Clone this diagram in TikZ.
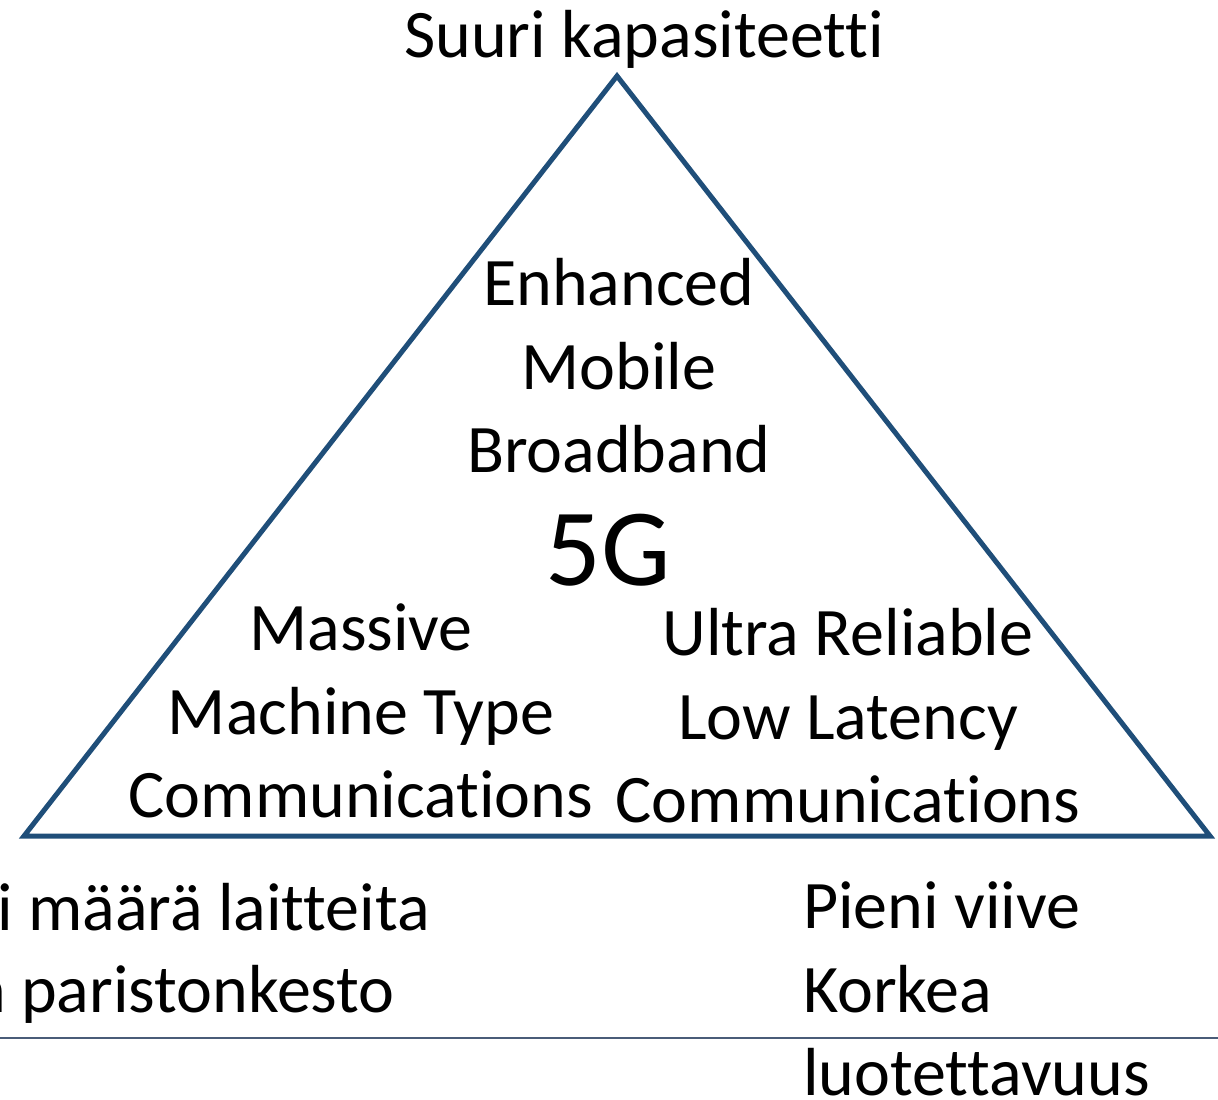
\documentclass[tikz,border=0pt]{standalone}
\usepackage{fontspec}
\setmainfont[Ligatures=NoCommon]{Carlito}
\definecolor{tri}{RGB}{31,78,121}
\definecolor{rule}{RGB}{74,92,120}
\begin{document}
\begin{tikzpicture}[x=1pt,y=-1pt,
  lbl/.style={font=\fontsize{68}{83}\selectfont, inner sep=0pt, align=center},
  big/.style={font=\fontsize{110}{120}\selectfont, inner sep=0pt}]
\useasboundingbox (0,0) rectangle (1218,1100);
\coordinate (A) at (617,76);
\coordinate (B) at (24,836);
\coordinate (C) at (1210,836);
\draw[tri, line width=5, line join=miter] (A) -- (B) -- (C) -- cycle;
\coordinate (L1) at (0,1038);
\coordinate (L2) at (1218,1038);
\draw[rule, line width=2.5] (L1) -- (L2);
\node[lbl, anchor=base] (top) at (644,57) {Suuri kapasiteetti};
\node[lbl, anchor=base] (e1) at (619,305) {Enhanced};
\node[lbl, anchor=base] (e2) at (619,389) {Mobile};
\node[lbl, anchor=base] (e3) at (619,472) {Broadband};
\node[big, anchor=base] (g) at (608,585) {5G};
\node[lbl, anchor=base] (m1) at (361,650) {Massive};
\node[lbl, anchor=base] (m2) at (361,734) {Machine Type};
\node[lbl, anchor=base] (m3) at (361,817) {Communications};
\node[lbl, anchor=base] (u1) at (848,655) {Ultra Reliable};
\node[lbl, anchor=base] (u2) at (848,739) {Low Latency};
\node[lbl, anchor=base] (u3) at (848,822) {Communications};
\node[lbl, anchor=base east] (b1) at (430,930) {i määrä laitteita};
\node[lbl, anchor=base east] (b2) at (395,1012) {n paristonkesto};
\node[lbl, anchor=base west] (r1) at (803,928) {Pieni viive};
\node[lbl, anchor=base west] (r2) at (803,1012) {Korkea};
\node[lbl, anchor=base west] (r3) at (803,1095) {luotettavuus};
\end{tikzpicture}
\end{document}
